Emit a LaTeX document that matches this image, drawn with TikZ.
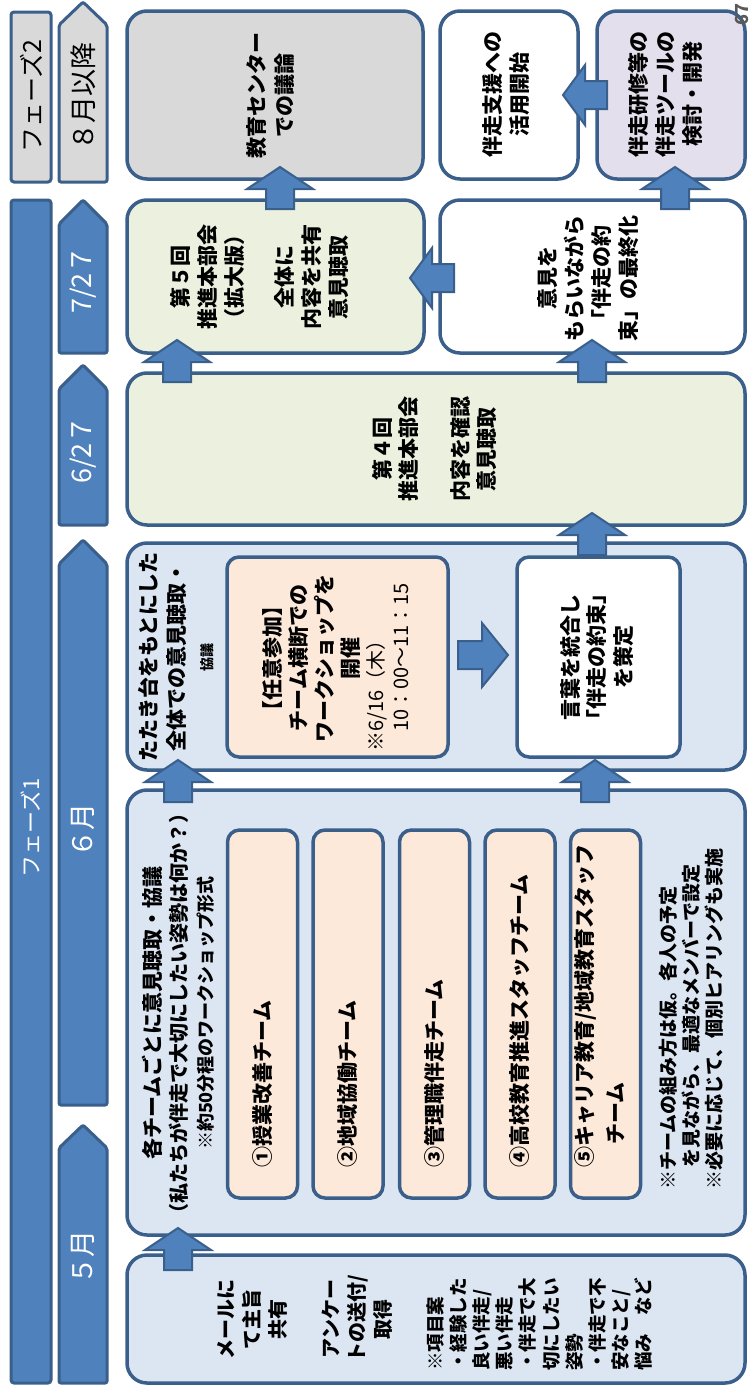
\documentclass[tikz,border=0pt]{standalone}
\usepackage{fontspec}
\setmainfont{Noto Sans CJK JP}
\definecolor{bord}{HTML}{3A5F8B}
\definecolor{blu}{HTML}{4F81BD}
\definecolor{lblue}{HTML}{DCE6F2}
\definecolor{lgreen}{HTML}{EBF1DE}
\definecolor{gry}{HTML}{D9D9D9}
\definecolor{lav}{HTML}{E4DFEC}
\definecolor{peach}{HTML}{FDE9D9}
\definecolor{pnum}{HTML}{595959}
\begin{document}
\begin{tikzpicture}[x=1pt,y=-1pt,
  box/.style={draw=bord, line width=3.5pt, rounded corners=20pt, inner sep=0pt},
  ibox/.style={draw=bord, line width=3.5pt, rounded corners=12pt, inner sep=0pt},
  pbox/.style={draw=bord, line width=3pt, rounded corners=3pt, inner sep=0pt, minimum width=40},
  arr/.style={fill=blu, draw=bord, line width=2pt},
  mon/.style={draw=bord, line width=3pt, rounded corners=2pt},
  vt/.style={rotate=90, inner sep=0pt, align=center, font=\bfseries\fontsize{21}{27}\selectfont},
  vl/.style={rotate=90, inner sep=0pt, align=left, font=\bfseries\fontsize{21}{27}\selectfont},
  lab/.style={rotate=90, inner sep=0pt, font=\fontsize{27}{30}\selectfont},
  uparr/.pic={\draw[arr] (0,0) -- (33,22) -- (14,22) -- (14,42) -- (-14,42) -- (-14,22) -- (-33,22) -- cycle;},
  leftarr/.pic={\draw[arr] (0,0) -- (22,-30) -- (22,-14) -- (44,-14) -- (44,14) -- (22,14) -- (22,30) -- cycle;},
  rightarr/.pic={\draw[arr] (0,0) -- (-26,-32) -- (-26,-14) -- (-50,-14) -- (-50,14) -- (-26,14) -- (-26,32) -- cycle;}
]
\useasboundingbox (0,0) rectangle (753,1392);

% phase bars
\node[pbox, fill=gry, minimum height=170] (ph2) at (31,97) {};
\node[pbox, fill=blu, minimum height=1183] (ph1) at (31,791.5) {};
\node[lab, font=\fontsize{25}{28}\selectfont] (ph2t) at (31,96) {フェーズ2};
\node[lab, text=white, font=\fontsize{22}{26}\selectfont] (ph1t) at (31,828) {フェーズ1};

% month markers
\draw[mon, fill=gry] (59,182) -- (59,25) -- (83,2) -- (107,25) -- (107,182) -- cycle;
\draw[mon, fill=blu] (59,353) -- (59,224) -- (83,200) -- (107,224) -- (107,353) -- cycle;
\draw[mon, fill=blu] (59,525) -- (59,389) -- (83,365) -- (107,389) -- (107,525) -- cycle;
\draw[mon, fill=blu] (59,1105) -- (59,564) -- (83,540) -- (107,564) -- (107,1105) -- cycle;
\draw[mon, fill=blu] (59,1383) -- (59,1148) -- (83,1125) -- (107,1148) -- (107,1383) -- cycle;
\node[lab] (m8) at (83,96) {８月以降};
\node[lab, text=white] (m727) at (83,280) {7/2７};
\node[lab, text=white] (m627) at (83,450) {6/2７};
\node[lab, text=white] (m6) at (83,830) {６月};
\node[lab, text=white] (m5) at (83,1257) {５月};

% row 1
\node[box, fill=gry, minimum width=296, minimum height=168] (kyoiku) at (275,95) {};
\node[box, fill=white, minimum width=138, minimum height=168] (shien) at (509,95) {};
\node[box, fill=lav, minimum width=148, minimum height=168] (kenshu) at (671,95) {};
\node[vt, font=\bfseries\fontsize{21}{28}\selectfont] (kyoikut) at (271,95) {教育センター\\での議論};
\node[vt] (shient) at (506,94) {伴走支援への\\活用開始};
\node[vt] (kenshut) at (665,94) {伴走研修等の\\伴走ツールの\\検討・開発};

% row 2
\node[box, fill=lgreen, minimum width=297, minimum height=153] (dai5) at (275.5,276.5) {};
\node[box, fill=white, minimum width=305, minimum height=153] (iken) at (592.5,276.5) {};
\node[vt] (dai5t) at (259,277) {第５回\\推進本部会\\（拡大版）\\[23pt]全体に\\内容を共有\\意見聴取};
\node[vt] (ikent) at (588,278) {意見を\\もらいながら\\「伴走の約\\束」の最終化};

% row 3
\node[box, fill=lgreen, minimum width=618, minimum height=152] (dai4) at (436,449) {};
\node[vt, font=\bfseries\fontsize{21}{26}\selectfont] (dai4t) at (434,449) {第４回\\推進本部会\\[26pt]内容を確認\\意見聴取};

% row 4
\node[box, fill=lblue, minimum width=618, minimum height=227] (big6) at (436,656.5) {};
\node[ibox, fill=peach, minimum width=221, minimum height=200] (nini) at (337.5,657) {};
\node[ibox, fill=white, minimum width=163, minimum height=200] (kotoba) at (598.5,657) {};
\node[vt, font=\bfseries\fontsize{21}{28}\selectfont] (big6t) at (176,657) {たたき台をもとにした\\全体での意見聴取・\\{\fontsize{14}{16}\selectfont 協議}};
\node[vt, font=\bfseries\fontsize{21}{25.7}\selectfont] (ninit) at (311.5,658) {【任意参加】\\チーム横断での\\ワークショップを\\開催};
\node[vl, font=\fontsize{20}{25}\selectfont, anchor=west] (ninit2) at (387.5,752) {※6/16（木）\\\hspace*{1em}10：00～11：15};
\node[vt, font=\bfseries\fontsize{21}{26.5}\selectfont] (kotobat) at (597,657) {言葉を統合し\\「伴走の約束」\\を策定};

% row 5
\node[box, fill=lblue, minimum width=618, minimum height=445] (team) at (436,1012.5) {};
\node[ibox, fill=peach, minimum width=70, minimum height=368] (t1) at (262.5,1014) {};
\node[ibox, fill=peach, minimum width=70, minimum height=368] (t2) at (348,1014) {};
\node[ibox, fill=peach, minimum width=70, minimum height=368] (t3) at (434.5,1014) {};
\node[ibox, fill=peach, minimum width=70, minimum height=368] (t4) at (520,1014) {};
\node[ibox, fill=peach, minimum width=70, minimum height=368] (t5) at (605.5,1014) {};
\node[vt, font=\bfseries\fontsize{21}{26}\selectfont] (teamt) at (178,1013) {各チームごとに意見聴取・協議\\{\fontsize{20}{24}\selectfont （私たちが伴走で大切にしたい姿勢は何か？）}\\{\fontsize{18}{22}\selectfont ※約50分程のワークショップ形式}};
\node[vl, anchor=west] (t1t) at (262.5,1168) {①授業改善チーム};
\node[vl, anchor=west] (t2t) at (348,1168) {②地域協働チーム};
\node[vl, anchor=west] (t3t) at (434.5,1168) {③管理職伴走チーム};
\node[vl, anchor=west] (t4t) at (520,1168) {④高校教育推進スタッフチーム};
\node[vl, anchor=west, font=\bfseries\fontsize{21}{31}\selectfont] (t5t) at (600,1168) {⑤キャリア教育/地域教育スタッフ\\\hspace*{1.1em}チーム};
\node[vl, anchor=west, font=\bfseries\fontsize{19}{23}\selectfont] (notes) at (691,1190) {※チームの組み方は仮。各人の予定\\\hspace*{1.2em}を見ながら、最適なメンバーで設定\\※必要に応じて、個別ヒアリングも実施};

% row 6
\node[box, fill=lblue, minimum width=618, minimum height=128] (mail) at (436,1319) {};
\node[vt, font=\bfseries\fontsize{20}{26}\selectfont] (mailt1) at (252,1319) {メールに\\て主旨\\共有};
\node[vt, font=\bfseries\fontsize{20}{26}\selectfont] (mailt2) at (357,1319) {アンケー\\トの送付/\\取得};
\node[vl, anchor=west, font=\bfseries\fontsize{18.5}{23.2}\selectfont] (mailt3) at (539.5,1371) {※項目案\\・経験した\\良い伴走/\\悪い伴走\\・伴走で大\\切にしたい\\姿勢\\・伴走で不\\安なこと/\\悩み　など};

% block arrows
\pic at (280,167) {uparr};
\pic at (675,167) {uparr};
\pic at (177,340) {uparr};
\pic at (592,340) {uparr};
\pic at (592,513) {uparr};
\pic at (178,760) {uparr};
\pic at (595,760) {uparr};
\pic at (178,1228) {uparr};
\pic at (563,95) {leftarr};
\pic at (410,278) {leftarr};
\pic at (508,655) {rightarr};

% page number
\node[rotate=90, inner sep=0pt, text=pnum, font=\bfseries\fontsize{18}{20}\selectfont] (pg) at (742,15) {67};
\end{tikzpicture}
\end{document}
